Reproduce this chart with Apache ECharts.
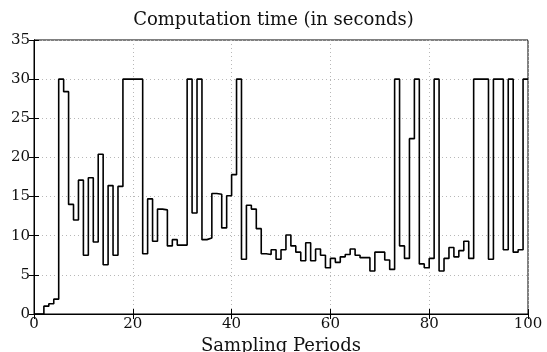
<!DOCTYPE html>
<html>
<head>
<meta charset="utf-8">
<script src="https://cdn.jsdelivr.net/npm/echarts@6/dist/echarts.min.js"></script>
<style>html,body{margin:0;padding:0;background:#fff}#c{width:547px;height:352px}</style>
</head>
<body>
<div id="c"></div>
<script>
const titleText = 'Computation time (in seconds)';
const xLabel = 'Sampling Periods';
const xTicks = [0, 20, 40, 60, 80, 100];
const yTicks = [0, 5, 10, 15, 20, 25, 30, 35];
// computation time per sampling period k (held from k to k+1)
const times = [
  0, 0, 1.0, 1.3, 1.9, 30, 28.4, 14.0, 12.0, 17.1,
  7.5, 17.4, 9.2, 20.4, 6.3, 16.4, 7.5, 16.3, 30, 30,
  30, 30, 7.7, 14.7, 9.3, 13.4, 13.3, 8.7, 9.5, 8.8,
  8.8, 30, 12.9, 30, 9.5, 9.7, 15.4, 15.3, 11.0, 15.1,
  17.8, 30, 7.0, 13.9, 13.4, 10.9, 7.7, 7.6, 8.2, 7.0,
  8.2, 10.1, 8.7, 7.9, 6.8, 9.1, 6.8, 8.3, 7.5, 5.9,
  7.1, 6.6, 7.3, 7.6, 8.3, 7.5, 7.2, 7.2, 5.5, 7.9,
  7.9, 6.9, 5.7, 30, 8.7, 7.1, 22.4, 30, 6.4, 5.9,
  7.1, 30, 5.5, 7.1, 8.5, 7.3, 8.1, 9.3, 7.1, 30,
  30, 30, 7.0, 30, 30, 8.2, 30, 7.9, 8.2, 30,
  30
];
const periods = times.map((_, i) => i);
const seriesData = periods.map((p, i) => [p, times[i]]);

const font = 'DejaVu Serif';
const chart = echarts.init(document.getElementById('c'), null, {renderer: 'canvas'});
const grid = {left: 34, right: 19, top: 40, bottom: 38, show: true, borderColor: '#000', borderWidth: 1,
  backgroundColor: '#fff', outerBoundsMode: 'none', containLabel: false};
const splitStyle = {show: true, lineStyle: {color: '#b8b8b8', type: [1, 3], width: 1}};
chart.setOption({
  animation: false,
  title: {text: titleText, left: 'center', top: 6,
    textStyle: {fontFamily: font, fontSize: 18, fontWeight: 'normal', color: '#111'}},
  grid: grid,
  xAxis: [{
    type: 'value', min: 0, max: 100, interval: 20, position: 'bottom',
    name: xLabel, nameLocation: 'middle', nameGap: 20,
    nameTextStyle: {fontFamily: font, fontSize: 18, color: '#111'},
    axisLine: {show: true, lineStyle: {color: '#000'}},
    axisTick: {show: true, inside: true, length: 5, lineStyle: {color: '#000'}},
    axisLabel: {fontFamily: font, fontSize: 15, color: '#111', margin: 3},
    splitLine: splitStyle
  }, {
    type: 'value', min: 0, max: 100, interval: 20, position: 'top',
    axisLine: {show: true, lineStyle: {color: '#000'}},
    axisTick: {show: true, inside: true, length: 5, lineStyle: {color: '#000'}},
    axisLabel: {show: false}, splitLine: {show: false}
  }],
  yAxis: [{
    type: 'value', min: 0, max: 35, interval: 5, position: 'left',
    axisLine: {show: true, lineStyle: {color: '#000'}},
    axisTick: {show: true, inside: true, length: 5, lineStyle: {color: '#000'}},
    axisLabel: {fontFamily: font, fontSize: 15, color: '#111', margin: 4},
    splitLine: splitStyle
  }, {
    type: 'value', min: 0, max: 35, interval: 5, position: 'right',
    axisLine: {show: true, lineStyle: {color: '#000'}},
    axisTick: {show: true, inside: true, length: 5, lineStyle: {color: '#000'}},
    axisLabel: {show: false}, splitLine: {show: false}
  }],
  series: [{
    type: 'line', step: 'end', data: seriesData, showSymbol: false, symbol: 'none',
    lineStyle: {color: '#000', width: 1.6}, xAxisIndex: 0, yAxisIndex: 0
  }]
});
</script>
</body>
</html>
